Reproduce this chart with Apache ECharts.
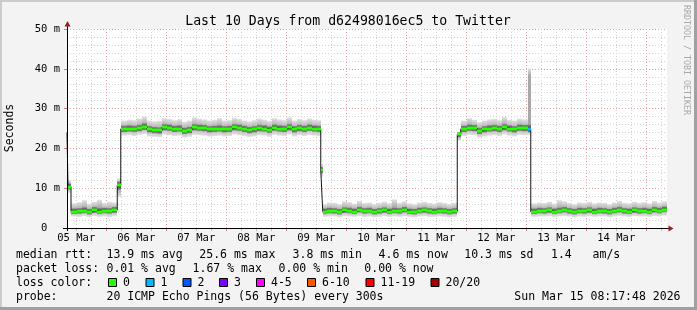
<!DOCTYPE html>
<html>
<head>
<meta charset="utf-8">
<script src="https://cdn.jsdelivr.net/npm/echarts@6/dist/echarts.min.js"></script>
<style>
html,body{margin:0;padding:0;background:#f3f3f3;}
#chart{width:697px;height:310px;}
</style>
</head>
<body>
<div id="chart"></div>
<script>
// ---- time base: hours after 05 Mar 00:00 ----
const START_HOUR = 8 + 17/60 + 48/3600;   // Thu Mar 05 08:17:48
const SPAN_HOURS = 240;                    // last 10 days

// sample start times (hours since graph start)
const hours = [0,0.4,1.6,4,6,8,10,12,14,16,18,
  20.1,21.5,24,26,28,30,32,34,36,38,40,42,44,46,48,50,52,54,56,58,60,62,64,66,68,70,72,74,76,78,80,82,84,86,88,90,92,94,96,98,100,
  101.5,102.3,104,106,108,110,112,114,116,118,120,122,124,126,128,130,132,134,136,138,140,142,144,146,148,150,152,154,
  156.1,157.5,160,162,164,166,168,170,172,174,176,178,180,182,
  184.5,185.5,188,190,192,194,196,198,200,202,204,206,208,210,212,214,216,218,220,222,224,226,228,230,232,234,236,238];

// median rtt (ms)
const median = [24.0,10.4,4.1,4.2,4.3,4.0,4.4,4.1,4.3,4.2,4.5,
  10.8,24.9,25.0,24.9,25.1,25.5,24.8,24.6,24.5,25.3,25.2,24.9,25.0,24.3,24.6,25.3,25.2,25.1,24.8,24.9,25.0,24.8,24.9,25.3,25.2,24.9,24.6,24.8,25.1,25.0,24.7,25.2,25.0,24.9,25.3,24.8,25.1,24.9,25.2,25.0,24.9,
  14.6,4.1,4.3,4.2,4.0,4.4,4.3,4.1,4.5,4.2,4.3,4.0,4.2,4.4,4.1,4.3,4.2,4.5,4.1,4.0,4.3,4.4,4.2,4.1,4.3,4.2,4.0,4.2,
  23.5,24.9,25.2,25.1,24.4,24.8,25.0,25.1,24.9,25.3,25.0,24.8,25.2,25.1,
  24.8,4.1,4.3,4.2,4.4,4.1,4.3,4.5,4.2,4.0,4.3,4.2,4.4,4.1,4.3,4.2,4.0,4.3,4.5,4.2,4.1,4.4,4.2,4.3,4.1,4.5,4.3,4.6];

// smoke: fastest / slowest ping
const pingMin = [23.0,8.8,2.9,2.8,3.0,2.7,3.0,2.8,2.9,2.7,3.0,
  7.8,23.2,23.3,23.1,23.4,23.6,23.0,22.9,22.8,23.5,23.3,23.1,23.2,22.7,22.9,23.4,23.3,23.2,23.0,23.1,23.2,23.0,23.1,23.5,23.3,23.1,22.9,23.0,23.3,23.2,22.9,23.4,23.2,23.1,23.5,23.0,23.3,23.1,23.4,23.2,23.1,
  12.9,2.8,2.9,2.9,2.7,3.0,2.9,2.8,3.0,2.8,2.9,2.7,2.8,3.0,2.8,2.9,2.8,3.0,2.8,2.7,2.9,3.0,2.8,2.8,2.9,2.8,2.7,2.8,
  22.0,23.1,23.4,23.3,22.7,23.0,23.2,23.3,23.1,23.5,23.2,23.0,23.4,23.3,
  23.4,2.8,2.9,2.9,3.0,2.8,2.9,3.0,2.9,2.7,2.9,2.8,3.0,2.8,2.9,2.9,2.7,2.9,3.0,2.9,2.8,3.0,2.9,2.9,2.8,3.0,2.9,3.1];
const pingMax = [24.8,12.0,6.2,6.5,7.0,6.1,6.6,7.1,6.3,6.6,6.4,
  12.5,27.0,27.2,27.1,27.5,28.0,27.0,26.8,26.9,27.6,27.4,27.1,27.3,26.7,27.0,27.8,27.5,27.3,27.0,27.2,27.6,27.0,27.1,27.7,27.4,27.0,26.8,27.1,27.5,27.2,26.9,27.6,27.3,27.1,27.8,27.0,27.4,27.1,27.5,27.2,27.1,
  15.8,6.0,6.4,6.3,6.0,6.7,6.5,6.1,6.8,6.3,6.4,6.0,6.3,6.6,6.2,7.2,6.3,6.7,6.2,6.0,6.4,6.6,6.3,6.1,6.5,6.3,6.0,6.3,
  24.2,27.0,27.6,27.2,26.6,27.0,27.3,27.4,27.1,27.9,27.2,27.0,27.5,27.3,
  40.1,6.2,6.4,6.3,6.6,6.1,7.0,6.7,6.3,6.0,6.4,6.3,6.6,6.2,6.4,6.3,6.0,6.4,6.8,6.3,6.2,6.6,6.3,6.5,6.2,6.8,6.4,6.7];
// smoke: inner quartiles
const pingLow = [23.5,9.7,3.5,3.6,3.7,3.4,3.8,3.5,3.7,3.6,3.8,
  9.6,24.1,24.2,24.1,24.3,24.6,24.0,23.8,23.7,24.5,24.4,24.1,24.2,23.6,23.8,24.5,24.4,24.3,24.0,24.1,24.2,24.0,24.1,24.5,24.4,24.1,23.8,24.0,24.3,24.2,23.9,24.4,24.2,24.1,24.5,24.0,24.3,24.1,24.4,24.2,24.1,
  13.8,3.5,3.7,3.6,3.4,3.8,3.7,3.5,3.9,3.6,3.7,3.4,3.6,3.8,3.5,3.7,3.6,3.9,3.5,3.4,3.7,3.8,3.6,3.5,3.7,3.6,3.4,3.6,
  22.8,24.1,24.4,24.3,23.6,24.0,24.2,24.3,24.1,24.5,24.2,24.0,24.4,24.3,
  24.0,3.5,3.7,3.6,3.8,3.5,3.7,3.9,3.6,3.4,3.7,3.6,3.8,3.5,3.7,3.6,3.4,3.7,3.9,3.6,3.5,3.8,3.6,3.7,3.5,3.9,3.7,4.0];
const pingHigh = [24.4,11.2,4.9,5.0,5.2,4.8,5.3,5.0,5.1,5.0,5.3,
  11.7,25.7,25.8,25.7,25.9,26.3,25.6,25.4,25.3,26.1,26.0,25.7,25.8,25.2,25.4,26.1,26.0,25.9,25.6,25.7,25.8,25.6,25.7,26.1,26.0,25.7,25.4,25.6,25.9,25.8,25.5,26.0,25.8,25.7,26.1,25.6,25.9,25.7,26.0,25.8,25.7,
  15.3,4.9,5.1,5.0,4.8,5.2,5.1,4.9,5.3,5.0,5.1,4.8,5.0,5.2,4.9,5.1,5.0,5.3,4.9,4.8,5.1,5.2,5.0,4.9,5.1,5.0,4.8,5.0,
  24.0,25.7,26.0,25.9,25.2,25.6,25.8,25.9,25.7,26.1,25.8,25.6,26.0,25.9,
  26.0,4.9,5.1,5.0,5.2,4.9,5.1,5.3,5.0,4.8,5.1,5.0,5.2,4.9,5.1,5.0,4.8,5.1,5.3,5.0,4.9,5.2,5.0,5.1,4.9,5.3,5.1,5.4];

// lost pings (out of 20) - only one sample had loss
const lossHours = [184.5];
const lossCounts = [1];

// loss colour legend
const lossLabels = ['0','1','2','3','4-5','6-10','11-19','20/20'];
const lossColors = ['#26ff00','#00b8ff','#0059ff','#7e00ff','#ff00ff','#ff5500','#ff0000','#a00000'];

// axis ticks (hours after 05 Mar 00:00)
const dayLabels = ['05 Mar','06 Mar','07 Mar','08 Mar','09 Mar','10 Mar','11 Mar','12 Mar','13 Mar','14 Mar'];
const labelHours = [12,36,60,84,108,132,156,180,204,228];
const midnightHours = [24,48,72,96,120,144,168,192,216,240];
const quarterDayHours = [12,18,30,36,42,54,60,66,78,84,90,102,108,114,126,132,138,150,156,162,174,180,186,198,204,210,222,228,234,246];

// ---- build ----
const N = hours.length;
const X_MIN = START_HOUR, X_MAX = START_HOUR + SPAN_HOURS;
function xs(i){ return START_HOUR + hours[i]; }
function xe(i){ return i + 1 < N ? START_HOUR + hours[i+1] : X_MAX; }
function lossAt(i){ const k = lossHours.indexOf(hours[i]); return k < 0 ? 0 : lossCounts[k]; }
function lossColorIdx(n){ if(n<=0) return 0; if(n===1) return 1; if(n===2) return 2; if(n===3) return 3; if(n<=5) return 4; if(n<=10) return 5; if(n<=19) return 6; return 7; }

const outerBand = hours.map((h,i)=>[xs(i), xe(i), pingMin[i], pingMax[i]]);
const innerBand = hours.map((h,i)=>[xs(i), xe(i), pingLow[i], pingHigh[i]]);
const medSeg = hours.map((h,i)=>[xs(i), xe(i), median[i], lossAt(i)]);
const medLine = hours.map((h,i)=>[xs(i), median[i]]);
medLine.push([X_MAX, median[N-1]]);

// shade fades over a few pixels at each edge of a band
function grad(edge, mid, heightPx, fadePx){
  const f = Math.min(0.5, fadePx / Math.max(1, heightPx));
  return new echarts.graphic.LinearGradient(0,0,0,1,[
    {offset:0,color:edge},{offset:f,color:mid},{offset:1-f,color:mid},{offset:1,color:edge}]);
}
function bandRenderer(edge, mid, fadePx){
  return function(params, api){
    const a = api.coord([api.value(0), api.value(3)]);
    const b = api.coord([api.value(1), api.value(2)]);
    const x0 = Math.round(a[0]), x1 = Math.round(b[0]);
    const h = b[1]-a[1];
    return {type:'rect', shape:{x:x0, y:a[1], width:Math.max(1,x1-x0), height:h}, style:{fill:grad(edge, mid, h, fadePx)}};
  };
}
function medRenderer(params, api){
  const a = api.coord([api.value(0), api.value(2)]);
  const b = api.coord([api.value(1), api.value(2)]);
  const x0 = Math.round(a[0]), x1 = Math.round(b[0]);
  return {type:'rect', shape:{x:x0, y:Math.round(a[1])-1.5, width:Math.max(1,x1-x0), height:3},
    style:{fill: lossColors[lossColorIdx(api.value(3))]}};
}

const MONO = '"DejaVu Sans Mono", monospace';
const RED = '#e7a3a3', GRAY = '#d2d2d2';

const chart = echarts.init(document.getElementById('chart'), null, {renderer:'canvas'});

const legendTexts = [
  ['median rtt:',16,255],['13.9 ms avg',106.5,255],['25.6 ms max',199.3,255],['3.8 ms min',292.6,255],
  ['4.6 ms now',378.6,255],['10.3 ms sd',464.3,255],['1.4',551,255],['am/s',592.6,255],
  ['packet loss:',16,269],['0.01 % avg',106.5,269],['1.67 % max',192.6,269],['0.00 % min',278.6,269],['0.00 % now',364.3,269],
  ['loss color:',16,283],
  ['probe:',16,297.5],['20 ICMP Echo Pings (56 Bytes) every 300s',106.5,297.5]
];
const boxX = [108.5,146,183,219.5,256.5,307.5,366,431];
const graphics = [];
// frame shading
graphics.push({type:'rect', shape:{x:0,y:0,width:697,height:2}, style:{fill:'#cbcbcb'}, silent:true});
graphics.push({type:'rect', shape:{x:0,y:0,width:2,height:310}, style:{fill:'#cbcbcb'}, silent:true});
graphics.push({type:'rect', shape:{x:0,y:307,width:697,height:3}, style:{fill:'#a0a0a0'}, silent:true});
graphics.push({type:'rect', shape:{x:694,y:0,width:3,height:310}, style:{fill:'#a0a0a0'}, silent:true});
// title
graphics.push({type:'text', x:348, y:21.5, style:{text:'Last 10 Days from d62498016ec5 to Twitter', font:'13.2px '+MONO, fill:'#000', align:'center', verticalAlign:'middle'}});
// y name
graphics.push({type:'text', x:10.5, y:128, rotation:Math.PI/2, style:{text:'Seconds', font:'11.5px '+MONO, fill:'#000', align:'center', verticalAlign:'middle'}});
// watermark
graphics.push({type:'text', x:686, y:60, rotation:-Math.PI/2, style:{text:'RRDTOOL / TOBI OETIKER', font:'8.3px '+MONO, fill:'#a8a8a8', align:'center', verticalAlign:'middle'}});
// axis extensions + arrows
graphics.push({type:'line', shape:{x1:63,y1:228.5,x2:670,y2:228.5}, style:{stroke:'#000', lineWidth:1}, z:10});
graphics.push({type:'line', shape:{x1:67.5,y1:231,x2:67.5,y2:25}, style:{stroke:'#000', lineWidth:1}, z:10});
graphics.push({type:'polygon', shape:{points:[[673.5,228.5],[668.5,225.5],[668.5,231.5]]}, style:{fill:'#9b1c1c'}, z:11});
graphics.push({type:'polygon', shape:{points:[[67.5,21],[64.5,26.5],[70.5,26.5]]}, style:{fill:'#9b1c1c'}, z:11});
// legend text
legendTexts.forEach(t=>graphics.push({type:'text', x:t[1], y:t[2], style:{text:t[0], font:'11.5px '+MONO, fill:'#000', align:'left', verticalAlign:'middle'}}));
lossLabels.forEach((lab,i)=>{
  graphics.push({type:'rect', shape:{x:boxX[i], y:278.5, width:8, height:8}, style:{fill:lossColors[i], stroke:'#000', lineWidth:1}});
  graphics.push({type:'text', x:boxX[i]+14.5, y:283, style:{text:lab, font:'11.5px '+MONO, fill:'#000', align:'left', verticalAlign:'middle'}});
});
graphics.push({type:'text', x:680.5, y:297.5, style:{text:'Sun Mar 15 08:17:48 2026', font:'11.5px '+MONO, fill:'#000', align:'right', verticalAlign:'middle'}});

const option = {
  backgroundColor:'#f3f3f3',
  animation:false,
  grid:{left:67, top:29, width:600, height:199, show:true, backgroundColor:'#ffffff', borderWidth:0},
  xAxis:[
    {type:'value', position:'bottom', min:X_MIN, max:X_MAX,
      axisLine:{show:false},
      axisTick:{show:true, length:3, inside:false, customValues:quarterDayHours, lineStyle:{color:'#bbbbbb'}},
      axisLabel:{show:true, customValues:labelHours, margin:5, fontFamily:'DejaVu Sans Mono', fontSize:10.5, color:'#000',
        formatter:function(v){ const k = labelHours.indexOf(Math.round(v)); return k<0 ? '' : dayLabels[k]; }},
      splitLine:{show:true, lineStyle:{color:GRAY, type:[1,2], width:1}}},
    {type:'value', position:'bottom', min:X_MIN, max:X_MAX,
      axisLine:{show:false},
      axisTick:{show:true, length:3, inside:false, customValues:midnightHours, lineStyle:{color:'#d08080'}},
      axisLabel:{show:false},
      splitLine:{show:true, lineStyle:{color:RED, type:[1,2], width:1}}}
  ],
  yAxis:[{type:'value', min:0, max:50, interval:10,
    axisLine:{show:false},
    axisTick:{show:true, length:3, lineStyle:{color:'#d08080'}},
    axisLabel:{margin:7, fontFamily:'DejaVu Sans Mono', fontSize:10.5, color:'#000',
      formatter:function(v){ return v===0 ? '0  ' : v + ' m'; }},
    splitLine:{show:true, lineStyle:{color:RED, type:[1,2], width:1}},
    minorTick:{show:false, splitNumber:5},
    minorSplitLine:{show:true, lineStyle:{color:GRAY, type:[1,2], width:1}}
  }],
  series:[
    {type:'custom', name:'smoke outer', xAxisIndex:0, yAxisIndex:0, renderItem:bandRenderer('#e2e2e2','#a8a8a8',8),
      encode:{x:[0,1], y:[2,3]}, data:outerBand, silent:true, z:2},
    {type:'custom', name:'smoke inner', xAxisIndex:0, yAxisIndex:0, renderItem:bandRenderer('#8a8a8a','#3c3c3c',4),
      encode:{x:[0,1], y:[2,3]}, data:innerBand, silent:true, z:3},
    {type:'line', name:'median', xAxisIndex:0, yAxisIndex:0, step:'end', data:medLine, showSymbol:false, symbol:'none',
      lineStyle:{color:'#151515', width:1}, silent:true, z:4},
    {type:'custom', name:'median loss', xAxisIndex:0, yAxisIndex:0, renderItem:medRenderer,
      encode:{x:[0,1], y:2}, data:medSeg, silent:true, z:5}
  ],
  graphic:{elements:graphics}
};
chart.setOption(option);
</script>
</body>
</html>
